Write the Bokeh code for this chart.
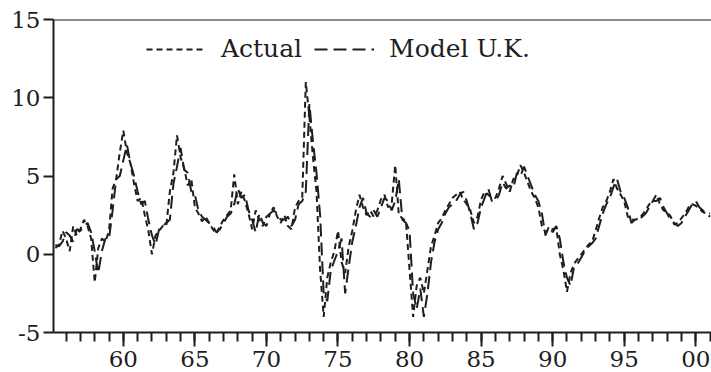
import numpy as np
from bokeh.plotting import figure
from bokeh.models import (Range1d, Span, SingleIntervalTicker, FixedTicker,
                          Legend, LegendItem, ColumnDataSource)
from bokeh.embed import file_html
from bokeh.resources import INLINE

# Quarterly values, first value = 1955 Q2
start_year = 1955.25
actual = [
    0.4, 0.6, 1.5,
    1.0, 0.2, 1.8, 1.2,
    1.6, 2.2, 1.8, 1.0,
    -1.8, 0.4, 1.0, 0.8,
    1.5, 4.2, 4.8, 6.5,
    7.9, 6.5, 5.8, 4.5,
    3.4, 3.6, 2.5, 1.5,
    0.0, 1.2, 1.5, 1.8,
    1.8, 4.0, 5.2, 7.6,
    6.2, 5.5, 4.4, 4.8,
    3.0, 2.6, 2.1, 2.4,
    2.0, 1.6, 1.3, 1.8,
    2.2, 2.5, 2.8, 5.1,
    3.2, 4.0, 3.4, 2.6,
    1.6, 2.8, 2.2, 1.8,
    2.4, 2.6, 3.0, 2.4,
    2.0, 2.5, 1.8, 1.6,
    3.0, 3.4, 3.6, 11.0,
    8.8, 6.2, 4.0, -1.0,
    -4.0, -1.5, -0.5, 0.2,
    1.5, -0.5, -1.2, 0.5,
    1.5, 2.8, 3.8, 3.0,
    2.5, 2.8, 2.4, 2.8,
    3.5, 3.8, 3.0, 3.2,
    5.7, 2.5, 2.3, 2.1,
    -1.0, -4.0, -2.0, -1.5,
    -2.5, -1.0, 0.5, 1.2,
    2.0, 2.3, 2.8, 3.2,
    3.6, 3.8, 4.0, 3.5,
    3.2, 2.8, 2.0, 2.4,
    3.5, 4.0, 3.8, 3.6,
    3.6, 4.2, 5.0, 4.5,
    4.0, 4.8, 5.0, 5.7,
    5.2, 4.6, 4.0, 3.6,
    3.0, 1.8, 1.4, 1.6,
    1.6, 1.7, 0.0, -1.0,
    -2.4, -1.2, -0.6, -0.3,
    0.0, 0.3, 0.6, 0.8,
    1.5, 2.3, 3.0, 3.4,
    4.0, 4.8, 4.2, 3.8,
    3.4, 2.4, 2.2, 2.2,
    2.3, 2.5, 2.8, 3.2,
    3.4, 3.8, 3.2, 2.8,
    2.7, 2.4, 1.9, 2.0,
    2.3, 2.6, 3.0, 3.2,
    3.1, 2.9, 2.7, 2.6,
    2.6,
]
model_uk = [
    0.6, 0.5, 0.8,
    1.4, 1.2, 0.8, 1.6,
    1.5, 1.8, 2.0, 1.4,
    0.2, -1.2, 0.2, 1.0,
    1.0, 2.8, 4.8, 5.0,
    6.0, 7.0, 5.8, 5.0,
    4.0, 3.2, 3.4, 2.2,
    1.2, 0.6, 1.6, 1.8,
    2.0, 2.2, 4.5, 5.6,
    6.8, 5.4, 5.2, 4.0,
    3.8, 2.8, 2.4, 2.2,
    2.0, 1.8, 1.4, 1.6,
    2.0, 2.4, 2.6, 3.2,
    4.2, 3.6, 3.8, 2.8,
    2.2, 1.4, 2.6, 2.0,
    1.8, 2.6, 2.8, 2.6,
    2.2, 2.2, 2.4, 1.8,
    2.2, 3.2, 3.4, 4.0,
    9.6, 7.2, 5.2, 2.5,
    -2.5, -3.0, -1.0, -0.4,
    0.2, 1.0, -2.5, -0.8,
    0.8, 1.8, 3.0, 3.6,
    2.6, 2.4, 2.8, 2.4,
    3.0, 3.6, 3.4, 2.8,
    3.4, 4.8, 2.2, 2.0,
    1.5, -2.5, -3.5, -2.2,
    -4.0, -2.5, -0.5, 0.8,
    1.6, 2.0, 2.6, 3.0,
    3.2, 3.4, 3.8, 4.0,
    3.4, 2.6, 1.6, 2.0,
    3.0, 3.6, 4.2, 3.4,
    3.4, 3.8, 4.6, 4.2,
    4.4, 4.2, 5.2, 5.0,
    5.6, 5.0, 4.4, 3.8,
    3.4, 2.6, 1.2, 1.8,
    1.4, 1.8, 1.0, -0.5,
    -1.5, -2.0, -0.8, -0.6,
    -0.2, 0.2, 0.5, 0.7,
    1.0, 1.8, 2.6, 3.2,
    3.6, 4.3, 4.8, 4.0,
    3.6, 3.0, 2.0, 2.2,
    2.2, 2.4, 2.6, 3.0,
    3.4, 3.4, 3.6, 3.0,
    2.6, 2.2, 2.0, 1.8,
    2.0, 2.4, 2.8, 3.2,
    3.4, 3.0, 2.8, 2.6,
    2.4,
]
x_ticks = [1960, 1965, 1970, 1975, 1980, 1985, 1990, 1995, 2000]
x_labels = ["60", "65", "70", "75", "80", "85", "90", "95", "00"]
y_ticks = [-5, 0, 5, 10, 15]
y_labels = ["-5", "0", "5", "10", "15"]

years = start_year + 0.25 * np.arange(len(actual))
src = ColumnDataSource(dict(x=years, actual=actual, model=model_uk))

INK = "#1e1e1e"
FONT = "DejaVu Serif"

p = figure(width=711, height=372, output_backend="svg", toolbar_location=None,
           x_range=Range1d(1955.12, 2001.1), y_range=Range1d(-5, 15),
           min_border_left=53, min_border_right=0, min_border_top=19,
           min_border_bottom=40)
p.outline_line_color = None
p.grid.visible = False
p.background_fill_color = "white"
p.border_fill_color = "white"

r1 = p.line("x", "actual", source=src, line_color=INK, line_width=2,
            line_dash="6 4")
r2 = p.line("x", "model", source=src, line_color=INK, line_width=2,
            line_dash="13 6")

top = Span(location=15, dimension="width", line_color=INK, line_width=2)
p.add_layout(top)

xa = p.xaxis[0]
xa.ticker = SingleIntervalTicker(interval=5, num_minor_ticks=5)
xa.major_label_overrides = {t: l for t, l in zip(x_ticks, x_labels)}
xa.axis_line_color = INK
xa.axis_line_width = 2
xa.major_tick_line_color = INK
xa.major_tick_line_width = 2
xa.minor_tick_line_color = INK
xa.minor_tick_line_width = 2
xa.major_tick_in = 0
xa.major_tick_out = 14
xa.minor_tick_in = 0
xa.minor_tick_out = 9
xa.major_label_standoff = 4
xa.major_label_text_line_height = 0.8
xa.major_label_text_font = FONT
xa.major_label_text_font_size = "23px"
xa.major_label_text_color = INK

ya = p.yaxis[0]
ya.ticker = FixedTicker(ticks=y_ticks)
ya.major_label_overrides = {t: l for t, l in zip(y_ticks, y_labels)}
ya.axis_line_color = INK
ya.axis_line_width = 2
ya.major_tick_line_color = INK
ya.major_tick_line_width = 2
ya.minor_tick_line_color = None
ya.major_tick_in = 0
ya.major_tick_out = 10
ya.major_label_standoff = 3
ya.major_label_text_font = FONT
ya.major_label_text_font_size = "23px"
ya.major_label_text_color = INK

legend = Legend(items=[LegendItem(label="Actual", renderers=[r1]),
                       LegendItem(label="Model U.K.", renderers=[r2])],
                orientation="horizontal", location=(93, 269),
                glyph_width=60, glyph_height=20, label_standoff=15,
                spacing=12, padding=0, margin=0,
                label_text_font=FONT, label_text_font_size="25px",
                label_text_color=INK,
                background_fill_alpha=0, border_line_alpha=0)
p.add_layout(legend)

open("out.html", "w").write(file_html(p, INLINE))
